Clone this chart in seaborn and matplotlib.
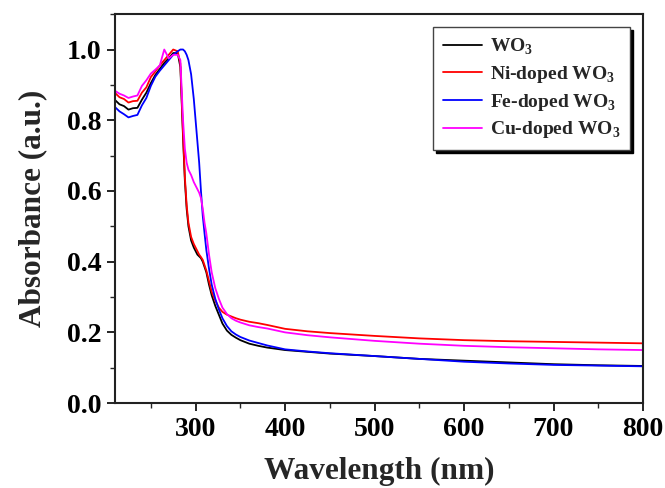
import numpy as np
import pandas as pd
import matplotlib
matplotlib.use('Agg')
import matplotlib.pyplot as plt
from matplotlib.ticker import MultipleLocator
import seaborn as sns

wavelength = [210, 215, 220, 225, 230, 235, 240, 245, 250, 255, 260, 265, 270, 275, 280,
              283, 286, 288, 290, 292, 295, 298, 300, 302, 304, 306, 308, 310, 312, 315,
              318, 322, 326, 330, 335, 340, 345, 350, 360, 370, 380, 400, 425, 450, 500,
              550, 600, 650, 700, 750, 800]

wo3 = [0.857, 0.845, 0.840, 0.830, 0.834, 0.835, 0.858, 0.878, 0.905, 0.928, 0.945, 0.962, 0.975, 0.990, 0.990,
       0.950, 0.750, 0.630, 0.550, 0.500, 0.460, 0.440, 0.430, 0.420, 0.415, 0.410, 0.400, 0.385, 0.370, 0.335,
       0.305, 0.275, 0.250, 0.225, 0.205, 0.193, 0.185, 0.178, 0.168, 0.162, 0.157, 0.150, 0.145, 0.140, 0.133,
       0.125, 0.120, 0.115, 0.110, 0.107, 0.105]

ni_wo3 = [0.877, 0.865, 0.860, 0.850, 0.854, 0.855, 0.878, 0.893, 0.922, 0.938, 0.955, 0.970, 0.985, 1.000, 0.995,
          0.960, 0.760, 0.640, 0.560, 0.510, 0.470, 0.450, 0.440, 0.430, 0.420, 0.413, 0.405, 0.390, 0.375, 0.345,
          0.315, 0.290, 0.270, 0.258, 0.250, 0.245, 0.240, 0.236, 0.230, 0.226, 0.221, 0.210, 0.203, 0.198, 0.190,
          0.183, 0.178, 0.175, 0.173, 0.171, 0.169]

fe_wo3 = [0.837, 0.825, 0.817, 0.808, 0.812, 0.815, 0.842, 0.863, 0.897, 0.923, 0.940, 0.955, 0.970, 0.985, 0.995,
          1.000, 1.000, 0.995, 0.985, 0.970, 0.930, 0.860, 0.800, 0.740, 0.680, 0.600, 0.530, 0.480, 0.433, 0.380,
          0.335, 0.295, 0.265, 0.240, 0.218, 0.203, 0.194, 0.187, 0.177, 0.170, 0.163, 0.152, 0.146, 0.141, 0.133,
          0.125, 0.117, 0.112, 0.108, 0.106, 0.104]

cu_wo3 = [0.883, 0.875, 0.870, 0.863, 0.867, 0.870, 0.897, 0.913, 0.932, 0.943, 0.955, 1.000, 0.975, 0.985, 0.985,
          0.970, 0.800, 0.720, 0.680, 0.660, 0.645, 0.625, 0.615, 0.605, 0.595, 0.580, 0.550, 0.510, 0.480, 0.420,
          0.370, 0.325, 0.295, 0.270, 0.252, 0.240, 0.233, 0.228, 0.220, 0.215, 0.211, 0.200, 0.192, 0.186, 0.176,
          0.168, 0.162, 0.158, 0.155, 0.152, 0.150]

labels = ['WO$_\\mathrm{3}$', 'Ni-doped WO$_\\mathrm{3}$', 'Fe-doped WO$_\\mathrm{3}$', 'Cu-doped WO$_\\mathrm{3}$']
colors = ['black', 'red', 'blue', 'magenta']

df = pd.DataFrame({
    'wl': wavelength * 4,
    'abs': wo3 + ni_wo3 + fe_wo3 + cu_wo3,
    'sample': sum([[l] * len(wavelength) for l in labels], []),
})

sns.set_style('ticks')
plt.rcParams['font.family'] = ['Liberation Serif', 'DejaVu Serif']
plt.rcParams['font.weight'] = 'bold'
plt.rcParams['mathtext.fontset'] = 'custom'
plt.rcParams['mathtext.rm'] = 'Liberation Serif:bold'
plt.rcParams['mathtext.bf'] = 'Liberation Serif:bold'

fig = plt.figure(figsize=(6.65, 4.88), dpi=100)
ax = fig.add_axes([0.173, 0.174, 0.794, 0.797])

sns.lineplot(data=df, x='wl', y='abs', hue='sample', palette=colors, hue_order=labels,
             linewidth=1.3, ax=ax, sort=False, estimator=None)

ax.set_xlim(210, 800)
ax.set_ylim(0, 1.1)
ax.xaxis.set_minor_locator(MultipleLocator(50))
ax.yaxis.set_major_locator(MultipleLocator(0.2))
ax.yaxis.set_minor_locator(MultipleLocator(0.1))
ax.set_xticks([300, 400, 500, 600, 700, 800])
ax.yaxis.set_major_formatter(matplotlib.ticker.FormatStrFormatter('%.1f'))
ax.tick_params(which='major', direction='out', length=6, width=1.2, labelsize=20, colors='black', pad=4)
ax.tick_params(which='minor', direction='out', length=3.5, width=1.0)
for s in ax.spines.values():
    s.set_linewidth(1.5)
    s.set_color('#222222')
    s.set_visible(True)

ax.set_xlabel('Wavelength (nm)', fontsize=22.5, fontweight='bold', labelpad=11)
ax.set_ylabel('Absorbance (a.u.)', fontsize=22.5, fontweight='bold', labelpad=14)

leg = ax.legend(loc='upper right', bbox_to_anchor=(0.975, 0.967), borderaxespad=0,
                fontsize=14, frameon=True, fancybox=False, framealpha=1,
                shadow={'color': 'black', 'alpha': 1.0}, handlelength=2.0,
                labelspacing=0.35, handletextpad=0.4, borderpad=0.5)
leg.get_frame().set_edgecolor('#444444')
leg.get_frame().set_linewidth(1.0)
for t in leg.get_texts():
    t.set_fontweight('bold')

fig.savefig('out.png', dpi=100)
